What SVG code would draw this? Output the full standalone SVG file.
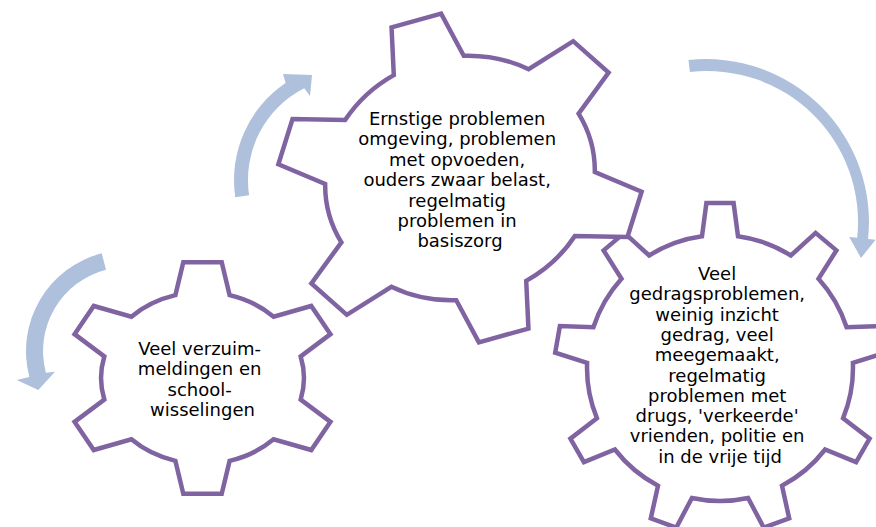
<svg xmlns="http://www.w3.org/2000/svg" width="876" height="527" viewBox="0 0 876 527">
  <defs>
    <style>
      .gear { fill: #ffffff; stroke: #8064A2; stroke-width: 4.5; stroke-linejoin: miter; }
      .arrow { fill: #AEC0DC; stroke: none; }
      .lbl { font-family: "DejaVu Sans", Verdana, sans-serif; font-size: 18px; fill: #000000; text-anchor: middle; }
    </style>
    <path id="gear6" vector-effect="non-scaling-stroke" d="M-19.64,-70.82 L-13.92,-99.03 L13.92,-99.03 L19.64,-70.82 A73.5,73.5 0 0 1 51.52,-52.43 L78.8,-61.57 L92.72,-37.46 L71.16,-18.4 A73.5,73.5 0 0 1 71.16,18.4 L92.72,37.46 L78.8,61.57 L51.52,52.43 A73.5,73.5 0 0 1 19.64,70.82 L13.92,99.03 L-13.92,99.03 L-19.64,70.82 A73.5,73.5 0 0 1 -51.52,52.43 L-78.8,61.57 L-92.72,37.46 L-71.16,18.4 A73.5,73.5 0 0 1 -71.16,-18.4 L-92.72,-37.46 L-78.8,-61.57 L-51.52,-52.43 A73.5,73.5 0 0 1 -19.64,-70.82 Z"/>
  </defs>
  <rect x="0" y="0" width="876" height="527" fill="#ffffff"/>

  <g id="connectors">
    <path class="arrow" d="M688.5,60 A163,163 0 0 1 868.1,239 L875.6,239.8 L861,258 L849.2,236.9 L857.2,237.8 A151,151 0 0 0 689.9,72 Z"/>
    <path class="arrow" d="M235.3,197.3 A117,117 0 0 1 285.6,83 L283,74 L312,75 L310,96 L304.2,88.2 A103,103 0 0 0 249.1,195.2 Z"/>
    <path class="arrow" d="M101.7,253.3 A101,101 0 0 0 29.4,377.1 L16.7,380 L38.3,390 L55,371.7 L45.9,372.7 A84,84 0 0 1 106,269.7 Z"/>
  </g>

  <g id="gear-gedrag">
    <path class="gear" transform="translate(720,368)" d="M-18,-131.8 L-13.6,-164.9 L13.6,-164.9 L18,-131.8 A133,133 0 0 1 70.9,-112.5 L95.6,-135.1 L116.4,-117.6 L98.5,-89.3 A133,133 0 0 1 126.6,-40.7 L160.1,-42 L164.8,-15.3 L132.9,-5.1 A133,133 0 0 1 123.1,50.2 L149.6,70.7 L136.1,94.2 L105.1,81.5 A133,133 0 0 1 62,117.7 L69.2,150.4 L43.7,159.6 L28.1,130 A133,133 0 0 1 -28.1,130 L-43.7,159.6 L-69.2,150.4 L-62,117.7 A133,133 0 0 1 -105.1,81.5 L-136.1,94.2 L-149.6,70.7 L-123.1,50.2 A133,133 0 0 1 -132.9,-5.1 L-164.8,-15.3 L-160.1,-42 L-126.6,-40.7 A133,133 0 0 1 -98.5,-89.3 L-116.4,-117.6 L-95.6,-135.1 L-70.9,-112.5 A133,133 0 0 1 -18,-131.8 Z"/>
    <text class="lbl">
      <tspan x="720" y="280">Veel</tspan>
      <tspan x="720" y="300.3">gedragsproblemen,</tspan>
      <tspan x="720" y="320.6">weinig inzicht</tspan>
      <tspan x="720" y="340.9">gedrag, veel</tspan>
      <tspan x="720" y="361.2">meegemaakt,</tspan>
      <tspan x="720" y="381.5">regelmatig</tspan>
      <tspan x="720" y="401.8">problemen met</tspan>
      <tspan x="720" y="422.1">drugs, 'verkeerde'</tspan>
      <tspan x="720" y="442.4">vrienden, politie en</tspan>
      <tspan x="720" y="462.7">in de vrije tijd</tspan>
    </text>
  </g>

  <g id="gear-omgeving">
    <use href="#gear6" class="gear" transform="translate(460,178) rotate(-15.5) scale(1.848,1.65)"/>
    <text class="lbl">
      <tspan x="460" y="125">Ernstige problemen</tspan>
      <tspan x="460" y="145.4">omgeving, problemen</tspan>
      <tspan x="460" y="165.8">met opvoeden,</tspan>
      <tspan x="460" y="186.2">ouders zwaar belast,</tspan>
      <tspan x="460" y="206.6">regelmatig</tspan>
      <tspan x="460" y="227">problemen in</tspan>
      <tspan x="460" y="247.4">basiszorg</tspan>
    </text>
  </g>

  <g id="gear-verzuim">
    <use href="#gear6" class="gear" transform="translate(202.5,378) scale(1.38,1.17)"/>
    <text class="lbl">
      <tspan x="202.5" y="355">Veel verzuim-</tspan>
      <tspan x="202.5" y="375.3">meldingen en</tspan>
      <tspan x="202.5" y="395.6">school-</tspan>
      <tspan x="202.5" y="415.9">wisselingen</tspan>
    </text>
  </g>
</svg>
